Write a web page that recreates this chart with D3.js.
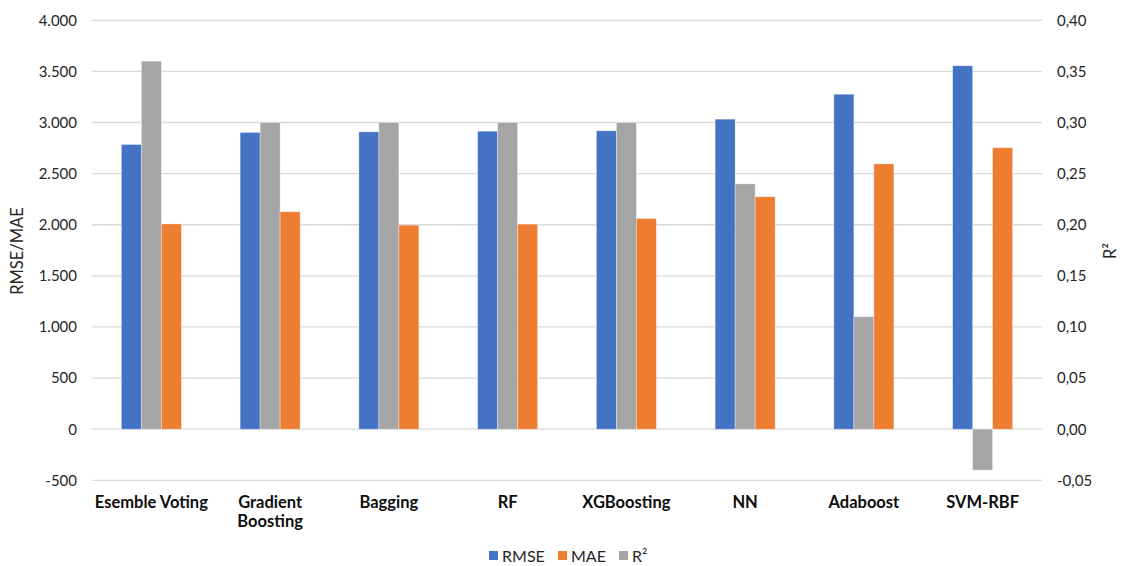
<!DOCTYPE html>
<html>
<head>
<meta charset="utf-8">
<script src="https://cdn.jsdelivr.net/npm/d3@7"></script>
<style>
  html, body { margin: 0; padding: 0; background: #fff; }
  svg { display: block; font-family: Lato, "Open Sans", sans-serif; }
</style>
</head>
<body>
<svg id="chart" width="1125" height="566"></svg>
<script>
// Model names along the x axis
const categories = ["Esemble Voting", "Gradient Boosting", "Bagging", "RF", "XGBoosting", "NN", "Adaboost", "SVM-RBF"];
// Error metrics (left axis)
const rmse = [2785, 2903, 2909, 2915, 2919, 3033, 3277, 3555];
const mae  = [2008, 2127, 1996, 2006, 2061, 2274, 2596, 2753];
// Coefficient of determination (right axis)
const r2   = [0.36, 0.30, 0.30, 0.30, 0.30, 0.24, 0.11, -0.04];
// Axis ticks
const leftTicks  = [-500, 0, 500, 1000, 1500, 2000, 2500, 3000, 3500, 4000];
const rightTicks = [-0.05, 0, 0.05, 0.10, 0.15, 0.20, 0.25, 0.30, 0.35, 0.40];
const seriesNames = ["RMSE", "MAE", "R²"];
const colors = { "RMSE": "#4472C4", "MAE": "#ED7D31", "R²": "#A5A5A5" };

const locale = d3.formatLocale({ decimal: ",", thousands: ".", grouping: [3], currency: ["", ""], minus: "-" });
const fmtLeft = locale.format(",.0f");
const fmtRight = locale.format(".2f");

const svg = d3.select("#chart");
const plot = { left: 92, right: 1042, top: 20.3, bottom: 480.3 };

const x = d3.scaleBand().domain(categories).range([plot.left, plot.right]).paddingInner(0).paddingOuter(0);
const yL = d3.scaleLinear().domain([-500, 4000]).range([plot.bottom, plot.top]);
const yR = d3.scaleLinear().domain([-0.05, 0.40]).range([plot.bottom, plot.top]);

// Bars inside each group: RMSE, R², MAE
const groupOrder = ["RMSE", "R²", "MAE"];
const barW = 20;
const inner = d3.scaleBand().domain(groupOrder).range([0, barW * 3]);

// Gridlines
svg.append("g").selectAll("line").data(leftTicks).join("line")
  .attr("x1", plot.left).attr("x2", plot.right)
  .attr("y1", d => yL(d)).attr("y2", d => yL(d))
  .attr("stroke", "#D9D9D9").attr("stroke-width", 1.3);

// Bars
const rows = [];
categories.forEach((c, i) => {
  rows.push({ c, s: "RMSE", v: rmse[i], y: yL });
  rows.push({ c, s: "R²", v: r2[i], y: yR });
  rows.push({ c, s: "MAE", v: mae[i], y: yL });
});
svg.append("g").selectAll("rect").data(rows).join("rect")
  .attr("x", d => x(d.c) + x.bandwidth() / 2 - barW * 1.5 + inner(d.s))
  .attr("width", inner.bandwidth())
  .attr("y", d => Math.min(d.y(d.v), d.y(0)))
  .attr("height", d => Math.abs(d.y(d.v) - d.y(0)))
  .attr("fill", d => colors[d.s])
  .attr("stroke", "rgba(255,255,255,0.45)").attr("stroke-width", 0.75);

// Left axis labels
const axisL = d3.axisLeft(yL).tickValues(leftTicks).tickFormat(fmtLeft).tickSize(0).tickPadding(15);
const gL = svg.append("g").attr("transform", `translate(${plot.left},0)`).call(axisL);
gL.select(".domain").remove();
gL.selectAll("text").attr("font-size", 15).attr("fill", "#262626").attr("font-family", "Lato, sans-serif");

// Right axis labels
const axisR = d3.axisRight(yR).tickValues(rightTicks).tickFormat(fmtRight).tickSize(0).tickPadding(15);
const gR = svg.append("g").attr("transform", `translate(${plot.right},0)`).call(axisR);
gR.select(".domain").remove();
gR.selectAll("text").attr("font-size", 15).attr("fill", "#262626").attr("font-family", "Lato, sans-serif");

// Category labels (bold, wrapped where needed)
const catLines = { "Gradient Boosting": ["Gradient", "Boosting"] };
const gX = svg.append("g");
categories.forEach(c => {
  const lines = catLines[c] || [c];
  const t = gX.append("text")
    .attr("x", x(c) + x.bandwidth() / 2).attr("y", 508)
    .attr("text-anchor", "middle").attr("font-size", 16.5).attr("font-weight", "bold").attr("fill", "#0d0d0d");
  lines.forEach((l, k) => t.append("tspan").attr("x", x(c) + x.bandwidth() / 2).attr("dy", k === 0 ? 0 : 19).text(l));
});

// Axis titles
svg.append("text").attr("transform", `translate(23,251) rotate(-90)`)
  .attr("text-anchor", "middle").attr("font-size", 16.5).attr("fill", "#262626").text("RMSE/MAE");
svg.append("text").attr("transform", `translate(1116,251) rotate(-90)`)
  .attr("text-anchor", "middle").attr("font-size", 16.5).attr("fill", "#262626").text("R²");

// Legend
const legendX = [489, 558, 619];
const lg = svg.append("g");
seriesNames.forEach((s, i) => {
  lg.append("rect").attr("x", legendX[i]).attr("y", 551).attr("width", 9).attr("height", 9).attr("fill", colors[s]);
  lg.append("text").attr("x", legendX[i] + 13).attr("y", 561.5).attr("font-size", 16).attr("fill", "#262626").text(s);
});
</script>
</body>
</html>
